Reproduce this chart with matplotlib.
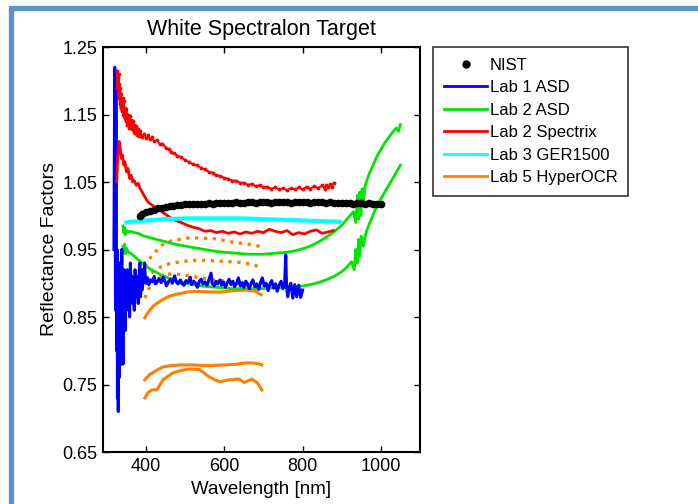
import numpy as np
import matplotlib
matplotlib.use("Agg")
import matplotlib.pyplot as plt
from matplotlib.patches import Rectangle

plt.rcParams['font.family'] = ['Liberation Sans', 'DejaVu Sans']

# ---- data (wavelength nm, reflectance factor) ----
nist = [(385, 1.000), (390, 1.002), (400, 1.005), (410, 1.007), (420, 1.009), (430, 1.011),
        (440, 1.012), (450, 1.013), (460, 1.014), (470, 1.015), (480, 1.016), (490, 1.016),
        (500, 1.017), (510, 1.017), (520, 1.018), (530, 1.018), (540, 1.018), (550, 1.018),
        (560, 1.019), (570, 1.018), (580, 1.019), (590, 1.019), (600, 1.019), (610, 1.019),
        (620, 1.019), (630, 1.020), (640, 1.019), (650, 1.019), (660, 1.020), (670, 1.020),
        (680, 1.019), (690, 1.020), (700, 1.020), (710, 1.020), (720, 1.019), (730, 1.020),
        (740, 1.020), (750, 1.020), (760, 1.020), (770, 1.019), (780, 1.020), (790, 1.020),
        (800, 1.020), (810, 1.020), (820, 1.019), (830, 1.020), (840, 1.020), (850, 1.020),
        (860, 1.019), (870, 1.020), (880, 1.019), (890, 1.019), (900, 1.019), (910, 1.019),
        (920, 1.019), (930, 1.018), (940, 1.019), (950, 1.019), (960, 1.018), (970, 1.019),
        (980, 1.018), (990, 1.018), (1000, 1.018)]

lab1_asd = [(318, 0.95), (320, 1.22), (321, 1.05), (322, 0.86), (323, 1.20), (324, 0.92),
            (325, 0.80), (326, 0.95), (327, 0.73), (328, 0.90), (329, 0.71), (330, 0.88),
            (331, 0.76), (332, 0.93), (333, 0.80), (334, 0.89), (335, 0.78), (336, 0.91),
            (337, 0.84), (338, 0.95), (339, 0.82), (340, 0.88), (341, 0.78), (342, 0.90),
            (343, 0.84), (344, 0.92), (345, 0.86), (346, 0.90), (347, 0.83), (348, 0.88),
            (350, 0.86), (352, 0.92), (354, 0.87), (356, 0.90), (358, 0.85), (360, 0.93),
            (362, 0.88), (364, 0.91), (366, 0.87), (368, 0.89), (370, 0.86), (372, 0.92),
            (374, 0.89), (376, 0.88), (378, 0.91), (380, 0.87), (382, 0.90), (384, 0.93),
            (386, 0.88), (388, 0.91), (390, 0.89), (392, 0.92), (394, 0.90), (396, 0.93),
            (398, 0.91), (400, 0.90), (404, 0.908), (407, 0.898), (412, 0.905), (416, 0.902),
            (421, 0.910), (424, 0.899), (430, 0.903), (433, 0.907), (439, 0.901), (444, 0.909),
            (448, 0.904), (452, 0.896), (458, 0.903), (463, 0.906), (467, 0.900), (473, 0.911),
            (477, 0.902), (482, 0.899), (488, 0.905), (491, 0.900), (497, 0.897), (502, 0.904),
            (507, 0.901), (513, 0.909), (516, 0.898), (522, 0.903), (527, 0.900), (531, 0.894),
            (536, 0.903), (541, 0.906), (545, 0.899), (550, 0.902), (556, 0.897), (560, 0.904),
            (566, 0.915), (569, 0.900), (574, 0.896), (579, 0.903), (583, 0.899), (589, 0.905),
            (593, 0.897), (598, 0.902), (603, 0.894), (607, 0.900), (612, 0.906), (617, 0.898),
            (622, 0.903), (626, 0.895), (631, 0.899), (636, 0.908), (641, 0.896), (646, 0.901),
            (650, 0.894), (655, 0.903), (660, 0.898), (664, 0.892), (669, 0.901), (673, 0.905),
            (678, 0.895), (683, 0.899), (688, 0.891), (693, 0.902), (697, 0.908), (702, 0.896),
            (707, 0.900), (712, 0.889), (716, 0.898), (721, 0.904), (726, 0.893), (731, 0.899),
            (735, 0.888), (740, 0.897), (745, 0.903), (750, 0.892), (754, 0.899),
            (757, 0.942), (759, 0.895), (762, 0.880), (765, 0.893), (770, 0.900),
            (775, 0.878), (780, 0.898), (785, 0.880), (790, 0.897), (795, 0.879), (800, 0.890)]

lab2_asd_a = [(341, 0.985), (343, 0.975), (345, 0.983), (347, 0.972), (350, 0.978), (355, 0.976),
              (360, 0.977), (370, 0.975), (380, 0.974), (390, 0.971), (400, 0.969), (420, 0.966),
              (440, 0.963), (460, 0.960), (480, 0.957), (500, 0.955), (520, 0.953), (540, 0.951),
              (560, 0.949), (580, 0.947), (600, 0.946), (620, 0.945), (640, 0.944), (660, 0.943),
              (680, 0.943), (700, 0.943), (720, 0.944), (740, 0.945), (760, 0.946), (780, 0.948),
              (800, 0.951), (820, 0.955), (840, 0.961), (860, 0.968), (880, 0.976), (900, 0.986),
              (915, 0.996), (930, 1.006), (936, 0.990), (940, 1.030), (943, 0.995), (946, 1.035),
              (949, 1.000), (952, 1.040), (955, 1.020), (960, 1.045), (970, 1.062), (980, 1.075),
              (990, 1.088), (1000, 1.098), (1010, 1.108), (1020, 1.116), (1030, 1.124),
              (1040, 1.130), (1045, 1.125), (1050, 1.135)]

lab2_asd_b = [(341, 0.955), (343, 0.945), (345, 0.958), (347, 0.944), (350, 0.952), (355, 0.946),
              (360, 0.945), (370, 0.940), (380, 0.935), (390, 0.930), (400, 0.925), (420, 0.918),
              (440, 0.912), (460, 0.907), (480, 0.903), (500, 0.900), (520, 0.898), (540, 0.896),
              (560, 0.895), (580, 0.894), (600, 0.893), (620, 0.892), (640, 0.892), (660, 0.892),
              (680, 0.892), (700, 0.892), (720, 0.893), (740, 0.893), (760, 0.894), (780, 0.895),
              (800, 0.896), (820, 0.898), (840, 0.901), (860, 0.905), (880, 0.910), (900, 0.917),
              (915, 0.925), (925, 0.932), (932, 0.920), (936, 0.950), (940, 0.930), (943, 0.965),
              (946, 0.940), (950, 0.970), (955, 0.955), (962, 0.975), (972, 0.990), (985, 1.008),
              (1000, 1.025), (1015, 1.040), (1025, 1.050), (1035, 1.060), (1045, 1.070),
              (1050, 1.075)]

spectrix_a = [(326, 1.215), (327, 1.19), (328, 1.205), (329, 1.18), (330, 1.21), (331, 1.175),
              (332, 1.195), (333, 1.165), (334, 1.19), (335, 1.16), (336, 1.18), (338, 1.155),
              (340, 1.175), (341, 1.15), (343, 1.17), (345, 1.145), (346, 1.16), (348, 1.14),
              (350, 1.158), (352, 1.135), (354, 1.15), (356, 1.13), (358, 1.148), (360, 1.132),
              (362, 1.142), (364, 1.128), (366, 1.14), (368, 1.124), (370, 1.135), (373, 1.122),
              (375, 1.133), (378, 1.12), (380, 1.128), (383, 1.118), (385, 1.126), (390, 1.117),
              (395, 1.121), (400, 1.115), (405, 1.119), (410, 1.113), (415, 1.116), (420, 1.11),
              (428, 1.112), (435, 1.106), (442, 1.107), (450, 1.101), (458, 1.099), (465, 1.094),
              (472, 1.093), (480, 1.089), (490, 1.087), (500, 1.082), (510, 1.080), (520, 1.076),
              (530, 1.075), (540, 1.071), (550, 1.069), (560, 1.065), (570, 1.064), (580, 1.060),
              (590, 1.059), (600, 1.056), (610, 1.055), (620, 1.052), (630, 1.052), (640, 1.049),
              (650, 1.049), (660, 1.046), (670, 1.047), (680, 1.044), (690, 1.045), (700, 1.042),
              (710, 1.043), (720, 1.040), (730, 1.042), (740, 1.039), (750, 1.041), (760, 1.038),
              (770, 1.041), (780, 1.039), (790, 1.042), (800, 1.039), (810, 1.043), (820, 1.040),
              (830, 1.044), (840, 1.041), (850, 1.045), (856, 1.040), (860, 1.046), (866, 1.042),
              (870, 1.047), (875, 1.043), (880, 1.049)]

spectrix_b = [(325, 1.05), (328, 1.09), (331, 1.11), (334, 1.10), (337, 1.085), (340, 1.09),
              (343, 1.075), (346, 1.08), (350, 1.065), (354, 1.07), (358, 1.055), (362, 1.06),
              (366, 1.05), (370, 1.052), (375, 1.045), (380, 1.048), (385, 1.04), (390, 1.035),
              (397, 1.028), (405, 1.02), (415, 1.016), (425, 1.012), (435, 1.008), (448, 1.003),
              (460, 0.998), (475, 0.993), (490, 0.990), (505, 0.986), (520, 0.983), (535, 0.981),
              (550, 0.977), (565, 0.978), (580, 0.975), (595, 0.977), (610, 0.974), (625, 0.976),
              (640, 0.973), (655, 0.976), (670, 0.974), (685, 0.977), (700, 0.975), (715, 0.980),
              (730, 0.977), (745, 0.975), (760, 0.978), (775, 0.972), (790, 0.975), (805, 0.973),
              (820, 0.977), (835, 0.979), (850, 0.974), (865, 0.976), (878, 0.978)]

ger1500 = [(350, 0.990), (360, 0.991), (400, 0.993), (450, 0.995), (500, 0.996), (550, 0.996),
           (600, 0.996), (650, 0.996), (700, 0.995), (750, 0.994), (800, 0.993), (850, 0.992),
           (895, 0.991)]

hyperocr_dotted = [
    [(397, 0.925), (410, 0.937), (423, 0.946), (436, 0.954), (448, 0.960), (474, 0.964),
     (507, 0.967), (538, 0.967), (576, 0.966), (620, 0.961), (660, 0.958), (696, 0.954)],
    [(400, 0.905), (410, 0.912), (420, 0.918), (440, 0.925), (460, 0.929), (490, 0.932),
     (520, 0.934), (550, 0.934), (580, 0.933), (610, 0.932), (640, 0.931), (670, 0.928),
     (697, 0.923)],
    [(397, 0.878), (405, 0.890), (415, 0.900), (430, 0.908), (450, 0.913), (470, 0.914),
     (500, 0.912), (530, 0.909), (560, 0.906), (590, 0.904), (620, 0.902), (650, 0.898),
     (680, 0.893), (697, 0.887)],
]
hyperocr_solid = [
    [(397, 0.849), (405, 0.857), (420, 0.867), (440, 0.875), (460, 0.881), (480, 0.884),
     (506, 0.887), (530, 0.888), (560, 0.887), (592, 0.887), (620, 0.889), (658, 0.890),
     (680, 0.888), (694, 0.883)],
    [(397, 0.757), (410, 0.765), (430, 0.772), (443, 0.776), (465, 0.778), (486, 0.779),
     (520, 0.779), (550, 0.778), (570, 0.778), (600, 0.779), (630, 0.780), (656, 0.782),
     (671, 0.782), (685, 0.781), (696, 0.779)],
    [(397, 0.730), (405, 0.738), (415, 0.742), (428, 0.742), (443, 0.757), (468, 0.767),
     (490, 0.771), (511, 0.773), (537, 0.772), (562, 0.761), (587, 0.754), (613, 0.757),
     (638, 0.758), (651, 0.753), (671, 0.758), (685, 0.752), (696, 0.742)],
]

xticks = [400, 600, 800, 1000]
yticks = [0.65, 0.75, 0.85, 0.95, 1.05, 1.15, 1.25]

BLUE, GREEN, RED, CYAN, ORANGE = '#0000ff', '#00e600', '#ff0000', '#00ffff', '#ff7f00'


def xy(pairs):
    a = np.array(pairs)
    return a[:, 0], a[:, 1]


fig = plt.figure(figsize=(6.98, 5.04), dpi=100)
ax = fig.add_axes([103 / 698, 1 - 452 / 504, 317 / 698, 405 / 504])

for pts in hyperocr_dotted:
    ax.plot(*xy(pts), ':', color=ORANGE, lw=2.4)
for pts in hyperocr_solid:
    ax.plot(*xy(pts), '-', color=ORANGE, lw=2.2)
ax.plot(*xy(lab2_asd_b), '-', color=GREEN, lw=2)
ax.plot(*xy(lab2_asd_a), '-', color=GREEN, lw=2)
ax.plot(*xy(lab1_asd), '-', color=BLUE, lw=2.2)
ax.plot(*xy(spectrix_b), '-', color=RED, lw=2)
# upper Spectrix curve is ragged / dotted in the original
ax.plot(*xy(spectrix_a), '.-', color=RED, lw=1.4, ms=3.5)
ax.plot(*xy(ger1500), '-', color=CYAN, lw=3)
ax.plot(*xy(nist), 'o', color='black', ms=5.5, mew=0)

ax.set_xlim(290, 1100)
ax.set_ylim(0.65, 1.25)
ax.set_xticks(xticks)
ax.set_yticks(yticks)
ax.set_yticklabels(['%.2f' % v for v in yticks])
ax.tick_params(direction='in', top=True, right=True, length=4, width=1, labelsize=13, pad=4)
for s in ax.spines.values():
    s.set_linewidth(1.5)

ax.set_title('White Spectralon Target', fontsize=15.5, pad=9)
ax.set_xlabel('Wavelength [nm]', fontsize=13.5, labelpad=5)
ax.set_ylabel('Reflectance Factors', fontsize=14, labelpad=3)

# legend proxies
handles = [
    plt.Line2D([], [], ls='none', marker='o', color='black', ms=5),
    plt.Line2D([], [], color=BLUE, lw=2),
    plt.Line2D([], [], color=GREEN, lw=2),
    plt.Line2D([], [], color=RED, lw=2),
    plt.Line2D([], [], color=CYAN, lw=2),
    plt.Line2D([], [], color=ORANGE, lw=2),
]
labels = ['NIST', 'Lab 1 ASD', 'Lab 2 ASD', 'Lab 2 Spectrix', 'Lab 3 GER1500', 'Lab 5 HyperOCR']
leg = fig.legend(handles, labels, loc='upper left', bbox_to_anchor=(433 / 698, 1 - 47 / 504),
                 fontsize=12, frameon=True, fancybox=False, edgecolor='black',
                 handlelength=2.6, handletextpad=0.15, labelspacing=0.45, borderpad=0.65,
                 borderaxespad=0)
leg.get_frame().set_linewidth(1.2)

# slide-style blue border
fig.add_artist(Rectangle((11.5 / 698, -0.2), 1.5, 1.2 - 7.5 / 504, transform=fig.transFigure,
                         fill=False, edgecolor='#5f92cc', lw=3.8, clip_on=False))

fig.savefig('out.png', dpi=100)
